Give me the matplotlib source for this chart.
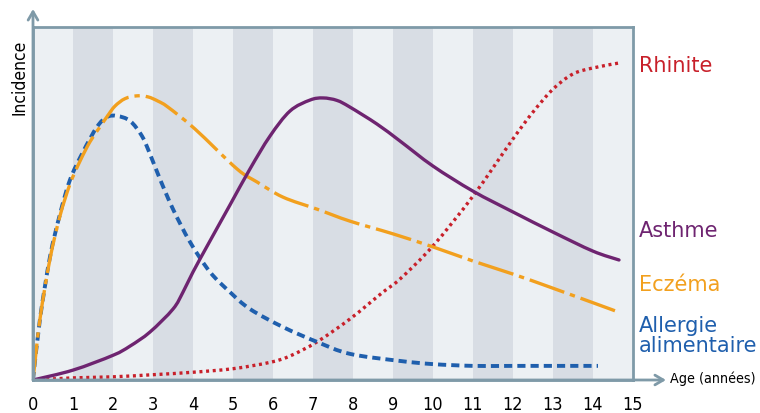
import matplotlib
matplotlib.use('Agg')
import matplotlib.pyplot as plt
from matplotlib.path import Path
from matplotlib.patches import PathPatch, FancyArrowPatch

# ages (years) and incidence (0-100, relative)
rhinite_x = [0, 1, 2, 3, 4, 5, 5.925, 6.425, 7.1, 7.925, 8.75, 9.175, 10, 11, 12, 12.5, 13, 13.5, 14, 14.65]
rhinite_y = [0, 0.6, 0.9, 1.5, 2.2, 3.2, 5.0, 6.8, 10.8, 17.3, 24.9, 28.6, 38.0, 52.1, 68.3, 75.9, 82.4, 86.7, 88.4, 89.8]

asthme_x = [0, 1, 2, 2.425, 2.925, 3.5, 3.75, 4.0, 4.425, 4.925, 5.425, 5.925, 6.425, 6.925, 7.25, 7.6, 7.925, 8.6, 9.175, 10, 11, 12, 13, 14, 14.65]
asthme_y = [0, 2.8, 7.0, 9.6, 13.6, 20.1, 24.9, 30.6, 39.4, 49.6, 59.8, 69.1, 76.2, 79.3, 79.9, 79.2, 77.3, 72.5, 67.7, 60.6, 53.5, 47.6, 41.9, 36.5, 34.0]

eczema_x = [0, 0.175, 0.425, 0.675, 0.925, 1.175, 1.425, 1.675, 1.875, 2.05, 2.3, 2.6, 2.875, 3.125, 3.375, 4.05, 5.1, 5.6, 6.25, 7.1, 7.925, 9.0, 10, 11, 12, 13, 14.625]
eczema_y = [0, 17.3, 34.3, 46.5, 55.5, 62.0, 67.5, 71.7, 75.0, 77.6, 79.7, 80.5, 80.2, 79.0, 77.3, 71.1, 59.8, 56.1, 51.8, 48.4, 45.0, 41.4, 37.7, 33.7, 30.0, 26.0, 19.3]

allergie_x = [0, 0.175, 0.425, 0.675, 0.925, 1.25, 1.6, 1.85, 2.1, 2.425, 2.725, 2.925, 3.175, 3.5, 3.925, 4.425, 4.925, 5.425, 6.25, 7.1, 7.925, 9.175, 10, 11, 12, 14.125]
allergie_y = [0, 17.3, 34.9, 47.0, 56.7, 64.6, 71.7, 74.5, 74.8, 73.4, 69.1, 64.0, 56.9, 48.4, 39.1, 30.6, 24.9, 20.1, 15.0, 10.8, 7.4, 5.4, 4.5, 4.0, 4.0, 4.0]

ages = list(range(0, 16))

frame_col = '#7f9aa8'
red = '#c8202a'
purple = '#6e2470'
orange = '#f2a01e'
blue = '#1f5fad'
narrow = dict(family='DejaVu Sans', stretch='condensed')


def smooth_curve(ax, xs, ys, **kw):
    # Catmull-Rom through the points, drawn as bezier segments
    verts = [(xs[0], ys[0])]
    codes = [Path.MOVETO]
    n = len(xs)
    for i in range(n - 1):
        x0, y0 = (xs[i - 1], ys[i - 1]) if i > 0 else (xs[i], ys[i])
        x1, y1 = xs[i], ys[i]
        x2, y2 = xs[i + 1], ys[i + 1]
        x3, y3 = (xs[i + 2], ys[i + 2]) if i + 2 < n else (x2, y2)
        c1 = (x1 + (x2 - x0) / 6, y1 + (y2 - y0) / 6)
        c2 = (x2 - (x3 - x1) / 6, y2 - (y3 - y1) / 6)
        verts += [c1, c2, (x2, y2)]
        codes += [Path.CURVE4] * 3
    patch = PathPatch(Path(verts, codes), fill=False, **kw)
    ax.add_patch(patch)
    return patch


fig = plt.figure(figsize=(7.6, 4.14), dpi=100)
ax = fig.add_axes([33 / 760, 33 / 414, 600 / 760, 353 / 414])
ax.set_facecolor('#ecf0f3')
ax.set_xlim(0, 15)
ax.set_ylim(0, 100)

# alternating vertical bands
for i in range(1, 15, 2):
    ax.axvspan(i, i + 1, color='#d8dde4', lw=0, zorder=0)

smooth_curve(ax, rhinite_x, rhinite_y, edgecolor=red, lw=2.4, linestyle=(0, (0.9, 1.1)), capstyle='butt')
smooth_curve(ax, allergie_x, allergie_y, edgecolor=blue, lw=2.8, linestyle=(0, (2.1, 1.3)), capstyle='butt')
smooth_curve(ax, eczema_x, eczema_y, edgecolor=orange, lw=2.4, linestyle=(0, (11, 1.8, 1.6, 1.8)), capstyle='butt')
smooth_curve(ax, asthme_x, asthme_y, edgecolor=purple, lw=2.4, capstyle='round')

for s in ax.spines.values():
    s.set_color(frame_col)
    s.set_linewidth(2)

ax.set_xticks(ages)
ax.set_xticklabels([str(a) for a in ages], fontsize=13, **narrow)
ax.tick_params(axis='x', length=0, pad=11)
ax.set_yticks([])

# axis arrows
for end in [(33 / 760, 404 / 414), (666 / 760, 33 / 414)]:
    fig.patches.append(FancyArrowPatch(
        (33 / 760, 33 / 414), end, transform=fig.transFigure,
        arrowstyle='->,head_length=6,head_width=3.5', color=frame_col, lw=2, shrinkA=0, shrinkB=0))

fig.text(20 / 760, 1 - 77 / 414, 'Incidence', rotation=90, ha='center', va='center',
         fontsize=12.5, **narrow)
fig.text(670 / 760, 1 - 379 / 414, 'Age (années)', ha='left', va='center',
         fontsize=10.3, **narrow)

# curve labels
fig.text(639 / 760, 1 - 66 / 414, 'Rhinite', color=red, fontsize=15, va='center')
fig.text(639 / 760, 1 - 231 / 414, 'Asthme', color=purple, fontsize=15, va='center')
fig.text(639 / 760, 1 - 285 / 414, 'Eczéma', color=orange, fontsize=15, va='center')
fig.text(639 / 760, 1 - 336 / 414, 'Allergie\nalimentaire', color=blue, fontsize=15, va='center',
         linespacing=0.95)

fig.savefig('out.png', dpi=100)
